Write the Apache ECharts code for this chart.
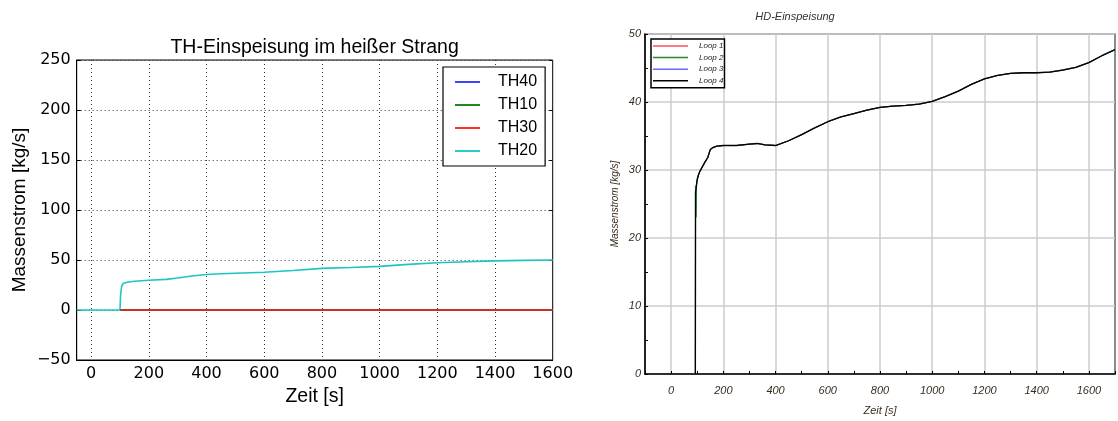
<!DOCTYPE html>
<html><head><meta charset="utf-8">
<script src="https://cdn.jsdelivr.net/npm/echarts@6/dist/echarts.min.js"></script>
<style>html,body{margin:0;padding:0;background:#fff}#c{width:1118px;height:421px}</style>
</head><body><div id="c"></div>
<script>
// ---- Left chart: TH-Einspeisung ----
const thTitle = 'TH-Einspeisung im heißer Strang';
const thNames = ['TH40', 'TH10', 'TH30', 'TH20'];
const thTime = [-50, 0, 50, 100, 102, 106, 112, 125, 150, 200, 260, 300, 350, 400, 450, 500, 600, 700, 800, 900, 1000, 1100, 1200, 1300, 1400, 1500, 1600];
const th20 = [0, 0, 0, 0, 15, 24, 26.7, 27.8, 28.8, 29.8, 30.6, 32, 34, 35.5, 36.2, 36.8, 37.7, 39.5, 41.6, 42.5, 43.6, 45.6, 47.2, 48.3, 49.1, 49.6, 50];
const thZeroTime = [100, 600, 1100, 1600];
const th40 = [0, 0, 0, 0];
const th10 = [0, 0, 0, 0];
const th30 = [0, 0, 0, 0];

// ---- Right chart: HD-Einspeisung ----
const hdTitle = 'HD-Einspeisung';
const hdNames = ['Loop 1', 'Loop 2', 'Loop 3', 'Loop 4'];
const hdTime = [93, 93.5, 96, 97, 100, 105, 110, 120, 130, 140, 150, 160, 175, 200, 250, 300, 330, 360, 400, 450, 500, 550, 600, 650, 700, 750, 800, 850, 900, 950, 1000, 1050, 1100, 1150, 1200, 1250, 1300, 1350, 1400, 1450, 1500, 1550, 1600, 1650, 1700];
const loop1 = [0, 26.8, 27.3, 27.8, 28.6, 29.3, 29.8, 30.5, 31.2, 31.8, 33.0, 33.3, 33.5, 33.6, 33.6, 33.8, 33.9, 33.7, 33.6, 34.3, 35.2, 36.2, 37.1, 37.8, 38.3, 38.8, 39.2, 39.4, 39.5, 39.7, 40.1, 40.8, 41.6, 42.6, 43.4, 43.9, 44.2, 44.3, 44.3, 44.4, 44.75, 45.1, 45.8, 46.8, 47.7];
const loop2 = [0, 27.7, 23.0, 27.6, 28.6, 29.3, 29.8, 30.5, 31.2, 31.8, 33.0, 33.3, 33.5, 33.6, 33.6, 33.8, 33.9, 33.7, 33.6, 34.3, 35.2, 36.2, 37.1, 37.8, 38.3, 38.8, 39.2, 39.4, 39.5, 39.7, 40.1, 40.8, 41.6, 42.6, 43.4, 43.9, 44.2, 44.3, 44.3, 44.4, 44.7, 45.1, 45.8, 46.85, 47.7];
const loop3 = [0, 26.8, 27.3, 27.8, 28.6, 29.3, 29.8, 30.5, 31.2, 31.8, 33.0, 33.3, 33.5, 33.6, 33.6, 33.8, 33.9, 33.7, 33.6, 34.3, 35.2, 36.2, 37.1, 37.8, 38.3, 38.8, 39.2, 39.4, 39.5, 39.7, 40.1, 40.8, 41.6, 42.6, 43.4, 43.9, 44.2, 44.3, 44.3, 44.4, 44.7, 45.1, 45.8, 46.8, 47.7];
const loop4 = [0, 26.8, 27.3, 27.8, 28.6, 29.3, 29.8, 30.5, 31.2, 31.8, 33.0, 33.3, 33.5, 33.6, 33.6, 33.8, 33.9, 33.7, 33.6, 34.3, 35.2, 36.2, 37.1, 37.8, 38.3, 38.8, 39.2, 39.4, 39.5, 39.7, 40.1, 40.8, 41.6, 42.6, 43.4, 43.9, 44.2, 44.3, 44.3, 44.4, 44.7, 45.1, 45.8, 46.8, 47.7];

const pairs = (xs, ys) => xs.map((x, i) => [x, ys[i]]);
const SANS = 'Liberation Sans, Arial, sans-serif';
const DV = 'DejaVu Sans, sans-serif';
const hdText = '#3a2d20';

const chart = echarts.init(document.getElementById('c'), null, {renderer: 'canvas'});
chart.setOption({
  backgroundColor: '#fff',
  animation: false,
  title: [
    {text: thTitle, left: 314.6, top: 37.5, textAlign: 'center', padding: 0,
     textStyle: {fontFamily: SANS, fontSize: 19.5, fontWeight: 'normal', color: '#000'}},
    {text: hdTitle, left: 795, top: 11, textAlign: 'center', padding: 0,
     textStyle: {fontFamily: SANS, fontSize: 11, fontStyle: 'italic', fontWeight: 'normal', color: '#333'}}
  ],
  legend: [
    {data: thNames, orient: 'vertical', left: 443, top: 67, padding: [7, 8, 7, 12],
     itemWidth: 25, itemHeight: 2, itemGap: 7, icon: 'rect',
     borderColor: '#000', borderWidth: 1.2, backgroundColor: '#fff', z: 10,
     textStyle: {fontFamily: SANS, fontSize: 16, color: '#000', lineHeight: 16, padding: [0, 0, 0, 13]}},
    {data: hdNames, orient: 'vertical', left: 651, top: 39, padding: [2, 1, 2, 2],
     itemWidth: 35, itemHeight: 1.5, itemGap: 1.6, icon: 'rect',
     borderColor: '#000', borderWidth: 1.5, backgroundColor: '#fff', z: 10,
     textStyle: {fontFamily: SANS, fontSize: 8, fontStyle: 'italic', color: '#222', lineHeight: 10, padding: [0, 0, 0, 6]}}
  ],
  grid: [
    {left: 76.7, top: 60, width: 476, height: 300, show: true, borderColor: '#000', borderWidth: 1, backgroundColor: 'transparent', containLabel: false},
    {left: 645, top: 34, width: 472, height: 341, show: true, borderColor: '#666', borderWidth: 1.5, backgroundColor: 'transparent', containLabel: false}
  ],
  xAxis: [
    {type: 'value', gridIndex: 0, min: -50, max: 1600, interval: 50, z: 3,
     name: 'Zeit [s]', nameLocation: 'middle', nameGap: 19,
     nameTextStyle: {fontFamily: SANS, fontSize: 19.5, color: '#000'},
     axisLine: {show: true, onZero: false, lineStyle: {color: '#000', width: 1}},
     axisTick: {show: false},
     axisLabel: {fontFamily: DV, fontSize: 16, color: '#000', margin: 6,
       formatter: v => (v % 200 === 0 ? String(v) : '')},
     splitLine: {show: true, lineStyle: {color: ['transparent', '#333', 'transparent', 'transparent'], width: 1, type: [1, 3]}}},
    {type: 'value', gridIndex: 1, min: -100, max: 1700, interval: 100,
     name: 'Zeit [s]', nameLocation: 'middle', nameGap: 31,
     nameTextStyle: {fontFamily: SANS, fontSize: 11, fontStyle: 'italic', color: hdText},
     axisLine: {show: true, onZero: false, lineStyle: {color: '#000', width: 1.5}},
     axisTick: {show: true, inside: true, length: 3, lineStyle: {color: '#000', width: 1}},
     axisLabel: {fontFamily: SANS, fontSize: 11, fontStyle: 'italic', color: hdText, margin: 11,
       formatter: v => (v % 200 === 0 ? String(v) : '')},
     splitLine: {show: true, lineStyle: {color: ['transparent', '#cccccc'], width: 1.5}}}
  ],
  yAxis: [
    {type: 'value', gridIndex: 0, min: -50, max: 250, interval: 50, z: 3,
     name: 'Massenstrom [kg/s]', nameLocation: 'middle', nameGap: 47,
     nameTextStyle: {fontFamily: SANS, fontSize: 19, color: '#000'},
     axisLine: {show: true, onZero: false, lineStyle: {color: '#000', width: 1}},
     axisTick: {show: true, inside: true, length: 4, lineStyle: {color: '#000'}},
     axisLabel: {fontFamily: DV, fontSize: 16, color: '#000', margin: 6,
       formatter: v => (v < 0 ? '\u2212' + Math.abs(v) : String(v))},
     splitLine: {show: true, lineStyle: {color: '#333', width: 1, type: [1, 3]}}},
    {type: 'value', gridIndex: 0, min: -50, max: 250, interval: 50, position: 'right',
     axisLine: {show: false, onZero: false}, axisLabel: {show: false}, splitLine: {show: false},
     axisTick: {show: true, inside: true, length: 4, lineStyle: {color: '#000'}}},
    {type: 'value', gridIndex: 1, min: 0, max: 50, interval: 5,
     name: 'Massenstrom [kg/s]', nameLocation: 'middle', nameGap: 25,
     nameTextStyle: {fontFamily: SANS, fontSize: 10, fontStyle: 'italic', color: hdText},
     axisLine: {show: true, onZero: false, lineStyle: {color: '#000', width: 1.5}},
     axisTick: {show: true, inside: true, length: 3, lineStyle: {color: '#000', width: 1}},
     axisLabel: {fontFamily: SANS, fontSize: 11, fontStyle: 'italic', color: hdText, margin: 4,
       formatter: v => (v % 10 === 0 ? String(v) : '')},
     splitLine: {show: true, lineStyle: {color: ['#cccccc', 'transparent'], width: 1.5}}}
  ],
  series: [
    {name: 'TH40', type: 'line', xAxisIndex: 0, yAxisIndex: 0, data: pairs(thZeroTime, th40), showSymbol: false, symbol: 'none', lineStyle: {color: '#0000ff', width: 1.5}, itemStyle: {color: '#4040ff'}},
    {name: 'TH10', type: 'line', xAxisIndex: 0, yAxisIndex: 0, data: pairs(thZeroTime, th10), showSymbol: false, symbol: 'none', lineStyle: {color: '#008000', width: 1.5}, itemStyle: {color: '#1a8a1a'}},
    {name: 'TH20', type: 'line', xAxisIndex: 0, yAxisIndex: 0, data: pairs(thTime, th20), showSymbol: false, symbol: 'none', lineStyle: {color: '#1cc4c4', width: 1.6}, itemStyle: {color: '#30c8c8'}},
    {name: 'TH30', type: 'line', xAxisIndex: 0, yAxisIndex: 0, data: pairs(thZeroTime, th30), showSymbol: false, symbol: 'none', lineStyle: {color: '#ff2020', width: 1.5}, itemStyle: {color: '#ff3030'}},
    {name: 'Loop 1', type: 'line', xAxisIndex: 1, yAxisIndex: 2, data: pairs(hdTime, loop1), showSymbol: false, symbol: 'none', lineStyle: {color: '#ff4040', width: 1}, itemStyle: {color: '#ff5050'}},
    {name: 'Loop 2', type: 'line', xAxisIndex: 1, yAxisIndex: 2, data: pairs(hdTime, loop2), showSymbol: false, symbol: 'none', lineStyle: {color: '#1f8a1f', width: 1.2}, itemStyle: {color: '#2a8a2a'}},
    {name: 'Loop 3', type: 'line', xAxisIndex: 1, yAxisIndex: 2, data: pairs(hdTime, loop3), showSymbol: false, symbol: 'none', lineStyle: {color: '#6a6aff', width: 1}, itemStyle: {color: '#6a6aff'}},
    {name: 'Loop 4', type: 'line', xAxisIndex: 1, yAxisIndex: 2, data: pairs(hdTime, loop4), showSymbol: false, symbol: 'none', lineStyle: {color: '#000', width: 1.3}, itemStyle: {color: '#000'}}
  ]
});
</script>
</body></html>
